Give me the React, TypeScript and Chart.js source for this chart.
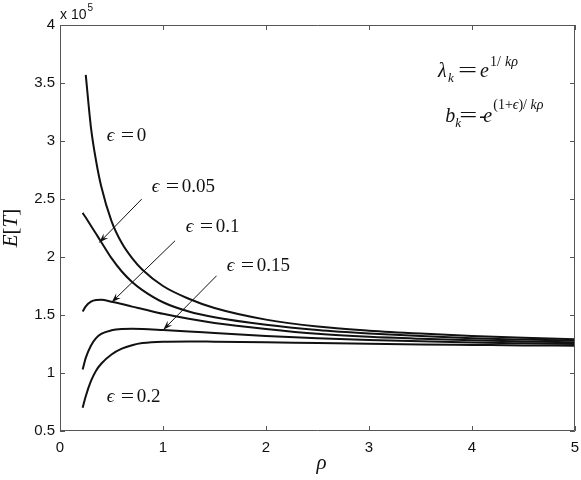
import React, { useEffect, useRef } from "react";
import { Chart, registerables } from "chart.js";

Chart.register(...registerables);

// rho grid (x values)
const rho = [0.22, 0.25, 0.3, 0.35, 0.4, 0.5, 0.6, 0.7, 0.8, 1.0, 1.25, 1.5, 2, 2.5, 3, 3.5, 4, 4.5, 5];
// E[T] in units of 10^5
const eps0 = [null, 3.57, 3.12, 2.83, 2.61, 2.31, 2.12, 1.99, 1.89, 1.75, 1.64, 1.56, 1.46, 1.4, 1.365, 1.34, 1.32, 1.303, 1.29];
const eps005 = [2.38, 2.34, 2.27, 2.2, 2.13, 1.99, 1.875, 1.785, 1.715, 1.61, 1.53, 1.48, 1.415, 1.37, 1.34, 1.318, 1.3, 1.288, 1.278];
const eps01 = [1.53, 1.575, 1.615, 1.63, 1.632, 1.615, 1.595, 1.572, 1.552, 1.51, 1.467, 1.432, 1.38, 1.338, 1.312, 1.295, 1.282, 1.272, 1.264];
const eps015 = [1.03, 1.13, 1.235, 1.3, 1.337, 1.368, 1.379, 1.381, 1.379, 1.37, 1.358, 1.345, 1.32, 1.3, 1.285, 1.273, 1.263, 1.256, 1.25];
const eps02 = [0.7, 0.8, 0.93, 1.02, 1.08, 1.16, 1.21, 1.24, 1.258, 1.27, 1.272, 1.27, 1.265, 1.258, 1.252, 1.246, 1.242, 1.238, 1.235];

const seriesList = [eps0, eps005, eps01, eps015, eps02];
const seriesNames = ["ε=0", "ε=0.05", "ε=0.1", "ε=0.15", "ε=0.2"];

const xTicks = [0, 1, 2, 3, 4, 5];
const yTicks = [0.5, 1, 1.5, 2, 2.5, 3, 3.5, 4];

// labels: number text, anchored at (rho, value)
const labelTexts = ["0", "0.05", "0.1", "0.15", "0.2"];
const labelRho = [0.453, 0.89, 1.22, 1.62, 0.453];
const labelVal = [3.05, 2.61, 2.27, 1.93, 0.8];

// arrows: from (rho,val) to (rho,val)
const arrowFromRho = [0.793, 1.117, 1.52];
const arrowFromVal = [2.499, 2.14, 1.838];
const arrowToRho = [0.382, 0.502, 1.003];
const arrowToVal = [2.125, 1.61, 1.373];

const SERIF = '"Liberation Serif", "DejaVu Serif", serif';
const SANS = '"Liberation Sans", Arial, sans-serif';

function wideEq(ctx: any, x: number, y: number, size: number, sx: number) {
  ctx.save();
  ctx.font = `${size}px ${SERIF}`;
  ctx.translate(x, y);
  ctx.scale(sx, 1);
  ctx.textAlign = "left";
  ctx.fillText("=", 0, 0);
  ctx.restore();
}

const overlay = {
  id: "overlay",
  afterDraw(chart: any) {
    const { ctx, chartArea, scales } = chart;
    const { left, right, top, bottom } = chartArea;
    const xs = scales.x;
    const ys = scales.y;
    ctx.save();
    // frame
    ctx.strokeStyle = "#555";
    ctx.lineWidth = 1;
    ctx.beginPath();
    ctx.rect(left + 0.5, top + 0.5, right - left - 1, bottom - top - 1);
    ctx.stroke();
    // inward ticks
    ctx.beginPath();
    xTicks.forEach((v) => {
      const px = Math.round(xs.getPixelForValue(v)) + 0.5;
      ctx.moveTo(px, bottom);
      ctx.lineTo(px, bottom - 5);
      ctx.moveTo(px, top);
      ctx.lineTo(px, top + 5);
    });
    yTicks.forEach((v) => {
      const py = Math.round(ys.getPixelForValue(v)) + 0.5;
      ctx.moveTo(left, py);
      ctx.lineTo(left + 5, py);
      ctx.moveTo(right, py);
      ctx.lineTo(right - 5, py);
    });
    ctx.stroke();

    ctx.fillStyle = "#111";
    ctx.textBaseline = "alphabetic";
    ctx.textAlign = "left";
    // "x 10^5"
    ctx.font = `14px ${SANS}`;
    ctx.fillText("x 10", left, top - 6);
    const w10 = ctx.measureText("x 10").width;
    ctx.font = `10px ${SANS}`;
    ctx.fillText("5", left + w10 + 1, top - 14);

    // epsilon labels
    labelTexts.forEach((t, i) => {
      const px = xs.getPixelForValue(labelRho[i]);
      const py = ys.getPixelForValue(labelVal[i]) + 6;
      ctx.font = `italic 19px ${SERIF}`;
      ctx.fillText("ϵ", px, py);
      wideEq(ctx, px + 14, py, 19, 1.25);
      ctx.font = `19px ${SERIF}`;
      ctx.fillText(t, px + 30, py);
    });

    // arrows
    ctx.strokeStyle = "#111";
    ctx.lineWidth = 1;
    arrowFromRho.forEach((_, i) => {
      const x1 = xs.getPixelForValue(arrowFromRho[i]);
      const y1 = ys.getPixelForValue(arrowFromVal[i]);
      const x2 = xs.getPixelForValue(arrowToRho[i]);
      const y2 = ys.getPixelForValue(arrowToVal[i]);
      ctx.beginPath();
      ctx.moveTo(x1, y1);
      ctx.lineTo(x2, y2);
      ctx.stroke();
      const ang = Math.atan2(y2 - y1, x2 - x1);
      const len = 10;
      const spread = 0.33;
      ctx.beginPath();
      ctx.moveTo(x2, y2);
      ctx.lineTo(x2 - len * Math.cos(ang - spread), y2 - len * Math.sin(ang - spread));
      ctx.lineTo(x2 - len * 0.6 * Math.cos(ang), y2 - len * 0.6 * Math.sin(ang));
      ctx.lineTo(x2 - len * Math.cos(ang + spread), y2 - len * Math.sin(ang + spread));
      ctx.closePath();
      ctx.fill();
    });

    // formulas
    {
      const px = xs.getPixelForValue(3.67);
      const py = ys.getPixelForValue(3.55);
      ctx.font = `italic 20px ${SERIF}`;
      ctx.fillText("λ", px, py);
      ctx.font = `italic 13px ${SERIF}`;
      ctx.fillText("k", px + 10, py + 5);
      wideEq(ctx, px + 20, py, 20, 1.7);
      ctx.font = `italic 20px ${SERIF}`;
      ctx.fillText("e", px + 42, py);
      ctx.font = `14px ${SERIF}`;
      ctx.fillText("1/", px + 52, py - 11);
      ctx.font = `italic 14px ${SERIF}`;
      ctx.fillText("kρ", px + 67, py - 11);
    }
    {
      const px = xs.getPixelForValue(3.74);
      const py = ys.getPixelForValue(3.165);
      ctx.font = `italic 20px ${SERIF}`;
      ctx.fillText("b", px, py);
      ctx.font = `italic 13px ${SERIF}`;
      ctx.fillText("k", px + 10, py + 5);
      wideEq(ctx, px + 14, py, 20, 1.6);
      ctx.font = `20px ${SERIF}`;
      ctx.fillText("-", px + 34, py);
      ctx.font = `italic 20px ${SERIF}`;
      ctx.fillText("e", px + 38, py);
      let cx = px + 48;
      const sy = py - 13;
      const sup: [string, string][] = [
        ["(1+", "normal"],
        ["ϵ", "italic"],
        [")/ ", "normal"],
        ["kρ", "italic"],
      ];
      sup.forEach(([s, st]) => {
        ctx.font = `${st} 14px ${SERIF}`;
        ctx.fillText(s, cx, sy);
        cx += ctx.measureText(s).width;
      });
    }

    // axis titles
    ctx.font = `italic 21px ${SERIF}`;
    ctx.textAlign = "center";
    ctx.fillText("ρ", (left + right) / 2 + 4, bottom + 38);

    ctx.save();
    ctx.translate(17, (top + bottom) / 2);
    ctx.rotate(-Math.PI / 2);
    ctx.textAlign = "left";
    const parts: [string, string][] = [
      ["E", "italic"],
      ["[", "normal"],
      ["T", "italic"],
      ["]", "normal"],
    ];
    let total = 0;
    parts.forEach(([s, st]) => {
      ctx.font = `${st} 21px ${SERIF}`;
      total += ctx.measureText(s).width;
    });
    let tx = -total / 2;
    parts.forEach(([s, st]) => {
      ctx.font = `${st} 21px ${SERIF}`;
      ctx.fillText(s, tx, 0);
      tx += ctx.measureText(s).width;
    });
    ctx.restore();

    ctx.restore();
  },
};

export default function App() {
  const ref = useRef<HTMLCanvasElement | null>(null);
  useEffect(() => {
    if (!ref.current) return;
    const chart = new Chart(ref.current, {
      type: "line",
      data: {
        datasets: seriesList.map((s, i) => ({
          label: seriesNames[i],
          data: rho.map((r, j) => ({ x: r, y: s[j] })) as any,
          borderColor: "#111",
          borderWidth: 2,
          pointRadius: 0,
          fill: false,
          cubicInterpolationMode: "monotone" as const,
          spanGaps: false,
        })),
      },
      options: {
        responsive: false,
        animation: false,
        layout: { padding: { top: 25, right: 6, left: 0, bottom: 0 } },
        plugins: { legend: { display: false }, tooltip: { enabled: false } },
        scales: {
          x: {
            type: "linear",
            min: 0,
            max: 5,
            grid: { display: false, drawTicks: false },
            border: { display: false },
            ticks: {
              stepSize: 1,
              padding: 8,
              color: "#111",
              font: { family: SANS, size: 15 },
            },
            afterFit: (s: any) => {
              s.height = 49;
              s.paddingLeft = 0;
              s.paddingRight = 0;
            },
          },
          y: {
            type: "linear",
            min: 0.5,
            max: 4,
            grid: { display: false, drawTicks: false },
            border: { display: false },
            ticks: {
              stepSize: 0.5,
              padding: 5,
              color: "#111",
              font: { family: SANS, size: 15 },
              callback: (v: any) => String(Math.round(Number(v) * 10) / 10),
            },
            afterFit: (s: any) => {
              s.width = 60;
              s.paddingTop = 0;
              s.paddingBottom = 0;
            },
          },
        },
      },
      plugins: [overlay],
    });
    return () => chart.destroy();
  }, []);
  return (
    <div style={{ position: "fixed", left: 0, top: 0, width: 581, height: 480, background: "#fff" }}>
      <canvas ref={ref} width={581} height={480} />
    </div>
  );
}
